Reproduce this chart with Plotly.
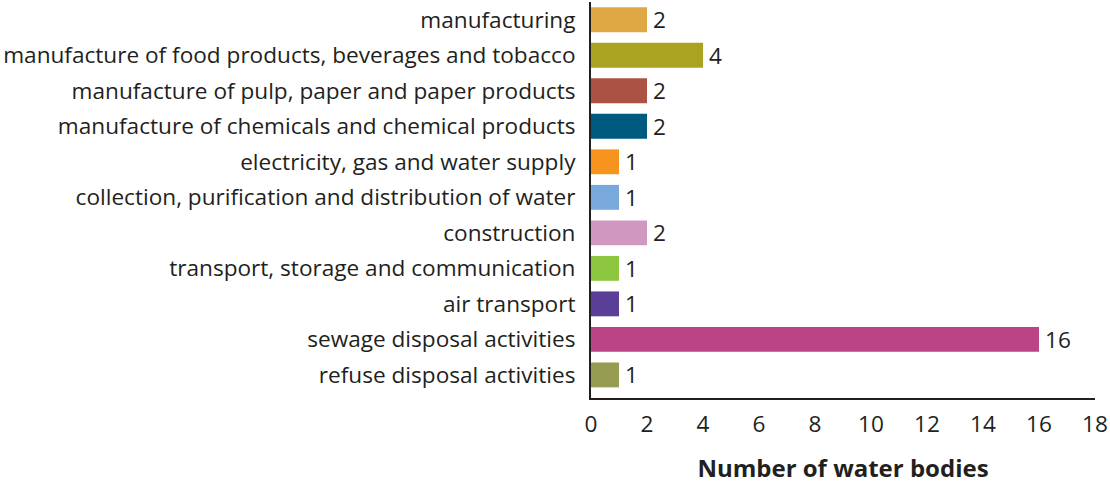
import plotly.graph_objects as go

categories = [
    "manufacturing",
    "manufacture of food products, beverages and tobacco",
    "manufacture of pulp, paper and paper products",
    "manufacture of chemicals and chemical products",
    "electricity, gas and water supply",
    "collection, purification and distribution of water",
    "construction",
    "transport, storage and communication",
    "air transport",
    "sewage disposal activities",
    "refuse disposal activities",
]
values = [2, 4, 2, 2, 1, 1, 2, 1, 1, 16, 1]
colors = ["#e0a845", "#aaa321", "#ab5244", "#005a80", "#f7941e", "#79a9dc",
          "#d097c1", "#8cc63f", "#5a3e98", "#ba4486", "#969d52"]
x_ticks = [0, 2, 4, 6, 8, 10, 12, 14, 16, 18]

FONT = "Open Sans"
TXT = "#231f20"
FS = 22.6

fig = go.Figure(go.Bar(
    y=categories, x=values, orientation="h",
    marker=dict(color=colors, line=dict(width=0)),
    hoverinfo="x+y",
))

for c, v in zip(categories, values):
    fig.add_annotation(
        x=v, y=c, xref="x", yref="y", text=str(v), showarrow=False,
        xanchor="left", yanchor="middle", xshift=4,
        font=dict(family=FONT, size=FS, color=TXT),
    )

fig.update_layout(
    width=1110, height=484,
    margin=dict(l=591, r=13, t=2, b=86),
    paper_bgcolor="white", plot_bgcolor="white",
    bargap=0.3,
    showlegend=False,
    font=dict(family=FONT, size=FS, color=TXT),
)
fig.update_xaxes(
    range=[0, 18], tickvals=x_ticks, showgrid=False, zeroline=False,
    showline=True, linecolor=TXT, linewidth=2, ticks="",
    ticklabelstandoff=5,
    tickfont=dict(family=FONT, size=FS, color=TXT),
    title=dict(text="<b>Number of water bodies</b>", standoff=23,
               font=dict(family=FONT, size=24, color=TXT)),
)
fig.update_yaxes(
    categoryorder="array", categoryarray=categories[::-1],
    range=[-0.65, 10.5], showgrid=False, zeroline=False,
    showline=True, linecolor=TXT, linewidth=2, ticks="",
    ticklabelstandoff=9,
    tickfont=dict(family=FONT, size=FS, color=TXT),
)

fig.write_html("out.html", config={"displayModeBar": False},
               post_script="document.body.style.margin='0';document.body.style.overflow='hidden';")
